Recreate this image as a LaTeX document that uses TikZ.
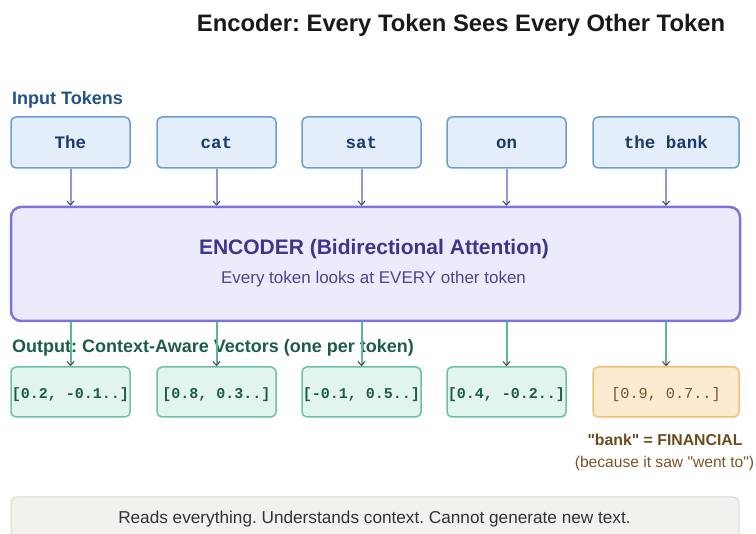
\documentclass[tikz,border=0pt]{standalone}
\usepackage{fontspec}
\setmainfont{Liberation Sans}
\setmonofont{Liberation Mono}
\usetikzlibrary{arrows.meta}
\frenchspacing
\definecolor{tokfill}{HTML}{E3EEFA}
\definecolor{tokdraw}{HTML}{6A9FD0}
\definecolor{toktext}{HTML}{1B3A6B}
\definecolor{inlbl}{HTML}{23518A}
\definecolor{inarrow}{HTML}{9C92DB}
\definecolor{encfill}{HTML}{ECEBFB}
\definecolor{encdraw}{HTML}{7D75DA}
\definecolor{enctext}{HTML}{3D378C}
\definecolor{encsub}{HTML}{4B4596}
\definecolor{outarrow}{HTML}{5DB896}
\definecolor{outfill}{HTML}{E1F4ED}
\definecolor{outdraw}{HTML}{6DC2A2}
\definecolor{outtext}{HTML}{1E5B48}
\definecolor{outlbl}{HTML}{1C5D47}
\definecolor{bankfill}{HTML}{FCEBD2}
\definecolor{bankdraw}{HTML}{F2C16F}
\definecolor{banktext}{HTML}{7A5526}
\definecolor{banklbl}{HTML}{6B4A1C}
\definecolor{notefill}{HTML}{F2F1EE}
\definecolor{notedraw}{HTML}{DAD8D2}
\definecolor{notetext}{HTML}{333333}
\definecolor{tipcol}{HTML}{444444}
\begin{document}
\begin{tikzpicture}[x=1pt,y=-1pt,
  tokbox/.style={draw=tokdraw, fill=tokfill, line width=1.5pt, rounded corners=5pt,
    minimum width=119pt, minimum height=51pt, inner sep=0pt,
    text height=13pt, text depth=0pt,
    font=\fontsize{17.5}{20}\selectfont\ttfamily\bfseries, text=toktext},
  outbox/.style={draw=outdraw, fill=outfill, line width=1.5pt, rounded corners=5pt,
    minimum width=119pt, minimum height=50pt, inner sep=0pt,
    text height=14pt, text depth=0pt,
    font=\fontsize{15}{18}\selectfont\ttfamily\bfseries, text=outtext},
  bankbox/.style={outbox, draw=bankdraw, fill=bankfill, text=banktext,
    minimum width=146pt, font=\fontsize{15.2}{18}\selectfont\ttfamily},
  inarr/.style={draw=inarrow, line width=2pt,
    -{Straight Barb[length=4pt,width=7pt,line width=1pt,color=tipcol]}},
  outarr/.style={draw=outarrow, line width=2pt,
    -{Straight Barb[length=4pt,width=7pt,line width=1pt,color=tipcol]}},
  lbl/.style={inner sep=0pt, anchor=base}
]
\useasboundingbox (0,0) rectangle (756,534);
\clip (0,0) rectangle (756,534);

% title
\node[lbl, font=\fontsize{23.8}{26}\selectfont\bfseries, text=black!90] (title) at (461,32)
  {Encoder: Every Token Sees Every Other Token};

% input label
\node[lbl, anchor=base west, font=\fontsize{18}{20}\selectfont\bfseries, text=inlbl] (inlabel) at (12,105) {Input Tokens};

% tokens
\node[tokbox] (t1) at (70.5,142.5) {The};
\node[tokbox] (t2) at (216.5,142.5) {cat};
\node[tokbox] (t3) at (361.5,142.5) {sat};
\node[tokbox] (t4) at (506.5,142.5) {on};
\node[tokbox, minimum width=146pt] (t5) at (666,142.5) {the bank};

% encoder
\node[draw=encdraw, fill=encfill, line width=2.5pt, rounded corners=10pt,
  minimum width=729pt, minimum height=114pt, inner sep=0pt] (enc) at (375.5,264) {};
\node[lbl, font=\fontsize{21}{24}\selectfont\bfseries, text=enctext] (enctitle) at (374,255)
  {ENCODER (Bidirectional Attention)};
\node[lbl, font=\fontsize{17}{20}\selectfont, text=encsub] (encsub) at (373.5,284)
  {Every token looks at EVERY other token};

% input arrows
\foreach \t in {t1,t2,t3,t4,t5}
  \draw[inarr] (\t.south) -- (\t.south |- enc.north);

% output label
\node[lbl, anchor=base west, font=\fontsize{18}{20}\selectfont\bfseries, text=outlbl] (outlabel) at (12,353)
  {Output: Context-Aware Vectors (one per token)};

% outputs
\node[outbox] (o1) at (70.5,392) {[0.2, -0.1..]};
\node[outbox] (o2) at (216.5,392) {[0.8, 0.3..]};
\node[outbox] (o3) at (361.5,392) {[-0.1, 0.5..]};
\node[outbox] (o4) at (506.5,392) {[0.4, -0.2..]};
\node[bankbox] (o5) at (666,392) {[0.9, 0.7..]};

% output arrows
\foreach \o in {o1,o2,o3,o4,o5}
  \draw[outarr] (\o.north |- enc.south) -- (\o.north);

% bank notes
\node[lbl, font=\fontsize{15.8}{18}\selectfont\bfseries, text=banklbl] (banknote) at (665,446)
  {\textquotedbl bank\textquotedbl{} = FINANCIAL};
\node[lbl, font=\fontsize{15.6}{18}\selectfont, text=banktext] (bankwhy) at (664.5,468)
  {(because it saw \textquotedbl went to\textquotedbl)};

% bottom note
\node[draw=notedraw, fill=notefill, line width=1pt, rounded corners=6pt,
  minimum width=728pt, minimum height=46pt, inner sep=0pt] (note) at (375,520) {};
\node[lbl, font=\fontsize{17.2}{20}\selectfont, text=notetext] (notetxt) at (374.5,524)
  {Reads everything. Understands context. Cannot generate new text.};
\end{tikzpicture}
\end{document}
